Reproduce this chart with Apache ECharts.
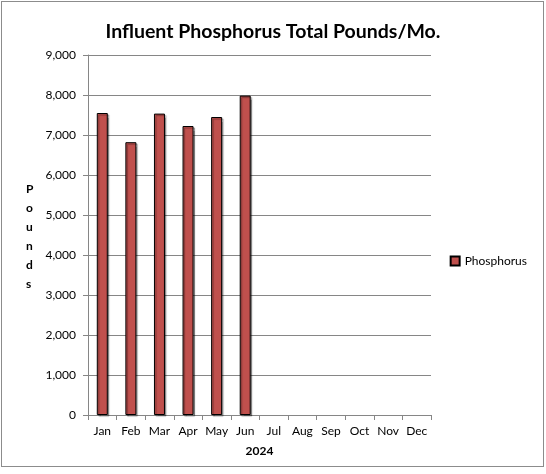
<!DOCTYPE html>
<html>
<head>
<meta charset="utf-8">
<script src="https://cdn.jsdelivr.net/npm/echarts@6/dist/echarts.min.js"></script>
<style>
  html, body { margin: 0; padding: 0; background: #fff; }
  #frame { position: absolute; left: 1px; top: 1px; width: 541px; height: 464px; border: 1px solid #8c8c8c; }
  #chart { width: 546px; height: 474px; }
</style>
</head>
<body>
<div id="chart"></div>
<div id="frame"></div>
<script>
// 数据
const months = ["Jan", "Feb", "Mar", "Apr", "May", "Jun", "Jul", "Aug", "Sep", "Oct", "Nov", "Dec"];
const phosphorus = [7550, 6820, 7535, 7225, 7450, 7985, null, null, null, null, null, null];

const FONT = "Lato, 'Open Sans', sans-serif";

const chart = echarts.init(document.getElementById("chart"));

const option = {
  animation: false,
  textStyle: { fontFamily: FONT, color: "#000" },
  title: {
    text: "Influent Phosphorus Total Pounds/Mo.",
    left: "center",
    top: 17,
    textStyle: { fontSize: 19.5, fontWeight: "bold", fontFamily: FONT, color: "#000" },
  },
  grid: { left: 88, right: 115, top: 55, bottom: 59 },
  legend: {
    right: 14,
    top: 250,
    itemWidth: 9,
    itemHeight: 9,
    icon: "rect",
    itemGap: 4,
    textStyle: { fontSize: 12, fontFamily: FONT, color: "#000" },
    data: ["Phosphorus"],
  },
  xAxis: {
    type: "category",
    data: months,
    name: "2024",
    nameLocation: "middle",
    nameGap: 30,
    nameTextStyle: { fontWeight: "bold", fontSize: 12, fontFamily: FONT, color: "#000" },
    axisLine: { lineStyle: { color: "#868686" } },
    axisTick: { show: true, interval: 0, lineStyle: { color: "#868686" }, length: 5 },
    axisLabel: { interval: 0, fontSize: 12, color: "#000", margin: 10 },
  },
  yAxis: {
    type: "value",
    min: 0,
    max: 9000,
    interval: 1000,
    axisLine: { show: true, lineStyle: { color: "#868686" } },
    axisTick: { show: true, lineStyle: { color: "#868686" }, length: 5 },
    axisLabel: {
      fontSize: 12,
      color: "#000",
      margin: 12,
      formatter: (v) => v.toLocaleString("en-US"),
    },
    splitLine: { lineStyle: { color: "#868686" } },
  },
  graphic: [
    {
      type: "text",
      left: 26,
      top: 180,
      style: {
        text: "P\no\nu\nn\nd\ns",
        font: "bold 12px " + FONT,
        fill: "#000",
        lineHeight: 19,
        align: "center",
      },
    },
  ],
  series: [
    {
      name: "Phosphorus",
      type: "bar",
      data: phosphorus,
      barWidth: 11,
      itemStyle: {
        color: "#C0504D",
        borderColor: "#000",
        borderWidth: 1,
        shadowColor: "rgba(0,0,0,0.35)",
        shadowOffsetX: 1.5,
        shadowOffsetY: 1.5,
        shadowBlur: 1,
      },
    },
  ],
};

chart.setOption(option);
</script>
</body>
</html>
